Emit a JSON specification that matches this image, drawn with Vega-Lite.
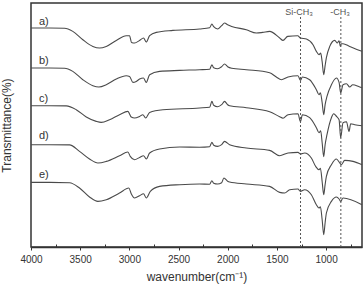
{
  "$schema": "https://vega.github.io/schema/vega-lite/v6.json",
  "width": 331,
  "height": 244,
  "autosize": {"type": "none"},
  "padding": {"left": 31, "top": 3, "right": 1, "bottom": 37},
  "background": "white",
  "config": {
    "font": "Liberation Sans",
    "view": {"stroke": "#333333", "strokeWidth": 1.5},
    "axis": {"grid": false}
  },
  "resolve": {"axis": {"x": "independent"}},
  "datasets": {
    "curves": [
      {"s":"a","w":4000,"t":219},{"s":"a","w":3812,"t":219},{"s":"a","w":3659,"t":218.8},{"s":"a","w":3575,"t":215.6},{"s":"a","w":3473,"t":207.3},{"s":"a","w":3371,"t":200.6},{"s":"a","w":3303,"t":199},{"s":"a","w":3235,"t":200.6},{"s":"a","w":3133,"t":206.6},{"s":"a","w":3032,"t":211.3},{"s":"a","w":2998,"t":211.3},{"s":"a","w":2978,"t":204.6},{"s":"a","w":2947,"t":204},{"s":"a","w":2896,"t":206.6},{"s":"a","w":2856,"t":209},{"s":"a","w":2828,"t":205},{"s":"a","w":2794,"t":211.3},{"s":"a","w":2726,"t":214.6},{"s":"a","w":2557,"t":216.6},{"s":"a","w":2286,"t":218},{"s":"a","w":2184,"t":219.3},{"s":"a","w":2161,"t":223},{"s":"a","w":2143,"t":220.3},{"s":"a","w":2103,"t":218},{"s":"a","w":2062,"t":221.3},{"s":"a","w":2032,"t":224},{"s":"a","w":2001,"t":222.3},{"s":"a","w":1960,"t":220.6},{"s":"a","w":1811,"t":217.3},{"s":"a","w":1709,"t":214},{"s":"a","w":1645,"t":214.6},{"s":"a","w":1574,"t":215.6},{"s":"a","w":1472,"t":209},{"s":"a","w":1438,"t":206.6},{"s":"a","w":1390,"t":210.6},{"s":"a","w":1289,"t":211.3},{"s":"a","w":1261,"t":209},{"s":"a","w":1200,"t":208},{"s":"a","w":1133,"t":202.3},{"s":"a","w":1099,"t":195.6},{"s":"a","w":1072,"t":192.3},{"s":"a","w":1055,"t":194},{"s":"a","w":1040,"t":185.3},{"s":"a","w":1024,"t":172.3},{"s":"a","w":1010,"t":181.3},{"s":"a","w":997,"t":189.3},{"s":"a","w":963,"t":200.6},{"s":"a","w":912,"t":206.6},{"s":"a","w":885,"t":204},{"s":"a","w":868,"t":206.3},{"s":"a","w":855,"t":200.6},{"s":"a","w":845,"t":203.3},{"s":"a","w":828,"t":203.3},{"s":"a","w":760,"t":200.6},{"s":"a","w":658,"t":196.6},{"s":"a","w":635,"t":195.8},
      {"s":"b","w":4000,"t":179},{"s":"b","w":3812,"t":179},{"s":"b","w":3659,"t":178.8},{"s":"b","w":3575,"t":175.6},{"s":"b","w":3473,"t":167.3},{"s":"b","w":3371,"t":161.3},{"s":"b","w":3310,"t":160},{"s":"b","w":3235,"t":162.3},{"s":"b","w":3133,"t":168},{"s":"b","w":3032,"t":171.3},{"s":"b","w":2998,"t":170.6},{"s":"b","w":2964,"t":164.6},{"s":"b","w":2930,"t":165.6},{"s":"b","w":2896,"t":168},{"s":"b","w":2856,"t":169},{"s":"b","w":2828,"t":164.6},{"s":"b","w":2794,"t":172.3},{"s":"b","w":2693,"t":175.6},{"s":"b","w":2489,"t":176.6},{"s":"b","w":2286,"t":177.3},{"s":"b","w":2184,"t":177.8},{"s":"b","w":2161,"t":182.3},{"s":"b","w":2143,"t":179.3},{"s":"b","w":2103,"t":178.3},{"s":"b","w":2062,"t":180.3},{"s":"b","w":2032,"t":183},{"s":"b","w":2001,"t":180.3},{"s":"b","w":1960,"t":178.8},{"s":"b","w":1811,"t":177.3},{"s":"b","w":1574,"t":174.3},{"s":"b","w":1506,"t":170},{"s":"b","w":1455,"t":167.3},{"s":"b","w":1387,"t":170},{"s":"b","w":1286,"t":171.3},{"s":"b","w":1261,"t":166.6},{"s":"b","w":1241,"t":170},{"s":"b","w":1167,"t":167.3},{"s":"b","w":1099,"t":157.3},{"s":"b","w":1072,"t":152.3},{"s":"b","w":1058,"t":154.3},{"s":"b","w":1040,"t":144.3},{"s":"b","w":1024,"t":132.3},{"s":"b","w":1010,"t":142.3},{"s":"b","w":991,"t":150.6},{"s":"b","w":946,"t":162.3},{"s":"b","w":895,"t":169},{"s":"b","w":868,"t":164.6},{"s":"b","w":852,"t":154},{"s":"b","w":828,"t":162.3},{"s":"b","w":793,"t":163.3},{"s":"b","w":760,"t":160},{"s":"b","w":729,"t":162.3},{"s":"b","w":658,"t":160},{"s":"b","w":635,"t":159.3},
      {"s":"c","w":4000,"t":141.3},{"s":"c","w":3812,"t":141.3},{"s":"c","w":3642,"t":141.1},{"s":"c","w":3540,"t":137.3},{"s":"c","w":3438,"t":130},{"s":"c","w":3337,"t":125.6},{"s":"c","w":3286,"t":124.6},{"s":"c","w":3201,"t":127.3},{"s":"c","w":3100,"t":132.3},{"s":"c","w":3015,"t":135.6},{"s":"c","w":2981,"t":130},{"s":"c","w":2947,"t":129},{"s":"c","w":2896,"t":130.6},{"s":"c","w":2863,"t":132.3},{"s":"c","w":2835,"t":129},{"s":"c","w":2794,"t":134.6},{"s":"c","w":2659,"t":137.3},{"s":"c","w":2286,"t":139},{"s":"c","w":2184,"t":139.8},{"s":"c","w":2161,"t":145.6},{"s":"c","w":2143,"t":141.8},{"s":"c","w":2103,"t":140.3},{"s":"c","w":2062,"t":142.3},{"s":"c","w":2032,"t":145.6},{"s":"c","w":2001,"t":142.3},{"s":"c","w":1981,"t":141.3},{"s":"c","w":1811,"t":139.3},{"s":"c","w":1574,"t":135.3},{"s":"c","w":1472,"t":130.3},{"s":"c","w":1438,"t":128.8},{"s":"c","w":1387,"t":132.3},{"s":"c","w":1286,"t":133.3},{"s":"c","w":1261,"t":125.3},{"s":"c","w":1241,"t":132.3},{"s":"c","w":1167,"t":129.3},{"s":"c","w":1099,"t":119.3},{"s":"c","w":1072,"t":114.3},{"s":"c","w":1055,"t":116.3},{"s":"c","w":1040,"t":104.3},{"s":"c","w":1024,"t":90.3},{"s":"c","w":1010,"t":102.3},{"s":"c","w":991,"t":112.3},{"s":"c","w":946,"t":129.3},{"s":"c","w":923,"t":133.3},{"s":"c","w":892,"t":130.3},{"s":"c","w":868,"t":127.3},{"s":"c","w":852,"t":109.3},{"s":"c","w":828,"t":124.3},{"s":"c","w":793,"t":125.3},{"s":"c","w":767,"t":115.6},{"s":"c","w":750,"t":123.3},{"s":"c","w":709,"t":122.3},{"s":"c","w":635,"t":121.3},
      {"s":"d","w":4000,"t":102.3},{"s":"d","w":3812,"t":102.3},{"s":"d","w":3608,"t":102.1},{"s":"d","w":3507,"t":95.6},{"s":"d","w":3405,"t":88},{"s":"d","w":3320,"t":84},{"s":"d","w":3235,"t":85.6},{"s":"d","w":3100,"t":91.3},{"s":"d","w":3015,"t":95},{"s":"d","w":2991,"t":90.6},{"s":"d","w":2947,"t":87.3},{"s":"d","w":2896,"t":89.6},{"s":"d","w":2856,"t":91.3},{"s":"d","w":2828,"t":88},{"s":"d","w":2794,"t":94},{"s":"d","w":2693,"t":98},{"s":"d","w":2489,"t":100},{"s":"d","w":2286,"t":99.8},{"s":"d","w":2184,"t":100.3},{"s":"d","w":2161,"t":104.6},{"s":"d","w":2143,"t":101.8},{"s":"d","w":2103,"t":100.6},{"s":"d","w":2062,"t":102.3},{"s":"d","w":2032,"t":105.6},{"s":"d","w":1981,"t":102.3},{"s":"d","w":1811,"t":99},{"s":"d","w":1574,"t":96.6},{"s":"d","w":1472,"t":91.3},{"s":"d","w":1387,"t":94},{"s":"d","w":1286,"t":94.6},{"s":"d","w":1261,"t":93},{"s":"d","w":1218,"t":94},{"s":"d","w":1150,"t":89},{"s":"d","w":1106,"t":80.6},{"s":"d","w":1072,"t":77.3},{"s":"d","w":1058,"t":78.8},{"s":"d","w":1040,"t":65.3},{"s":"d","w":1024,"t":52.3},{"s":"d","w":1010,"t":62.3},{"s":"d","w":997,"t":70.6},{"s":"d","w":946,"t":82.3},{"s":"d","w":895,"t":88},{"s":"d","w":861,"t":84},{"s":"d","w":845,"t":82.3},{"s":"d","w":811,"t":86.6},{"s":"d","w":726,"t":85.6},{"s":"d","w":635,"t":82.3},
      {"s":"e","w":4000,"t":64.6},{"s":"e","w":3812,"t":64.6},{"s":"e","w":3608,"t":64.3},{"s":"e","w":3507,"t":59},{"s":"e","w":3405,"t":50},{"s":"e","w":3320,"t":45.6},{"s":"e","w":3235,"t":47.3},{"s":"e","w":3100,"t":54},{"s":"e","w":3005,"t":59},{"s":"e","w":2981,"t":53.3},{"s":"e","w":2947,"t":49},{"s":"e","w":2896,"t":51.3},{"s":"e","w":2856,"t":53.3},{"s":"e","w":2828,"t":49},{"s":"e","w":2787,"t":55.6},{"s":"e","w":2693,"t":60.6},{"s":"e","w":2489,"t":62.3},{"s":"e","w":2286,"t":63},{"s":"e","w":2184,"t":62.8},{"s":"e","w":2161,"t":66.3},{"s":"e","w":2143,"t":63.8},{"s":"e","w":2103,"t":63},{"s":"e","w":2062,"t":64.3},{"s":"e","w":2039,"t":69},{"s":"e","w":2001,"t":65.8},{"s":"e","w":1981,"t":65},{"s":"e","w":1811,"t":63},{"s":"e","w":1574,"t":60.6},{"s":"e","w":1472,"t":54.6},{"s":"e","w":1421,"t":54},{"s":"e","w":1370,"t":57.3},{"s":"e","w":1286,"t":58},{"s":"e","w":1261,"t":55.6},{"s":"e","w":1218,"t":57.3},{"s":"e","w":1150,"t":52.3},{"s":"e","w":1099,"t":42.3},{"s":"e","w":1072,"t":39},{"s":"e","w":1058,"t":40.3},{"s":"e","w":1040,"t":27.3},{"s":"e","w":1024,"t":12.3},{"s":"e","w":1010,"t":24.3},{"s":"e","w":997,"t":34},{"s":"e","w":946,"t":45.6},{"s":"e","w":895,"t":50},{"s":"e","w":868,"t":48},{"s":"e","w":852,"t":45.6},{"s":"e","w":828,"t":49},{"s":"e","w":635,"t":42.3}
    ],
    "labels": [
      {"label":"a)","w":3919,"t":224.6},
      {"label":"b)","w":3919,"t":185.6},
      {"label":"c)","w":3919,"t":148.3},
      {"label":"d)","w":3919,"t":110.6},
      {"label":"e)","w":3919,"t":72.3}
    ],
    "marks": [
      {"name":"Si-CH₃","w":1260,"lw":1275},
      {"name":"-CH₃","w":850,"lw":858}
    ]
  },
  "layer": [
    {
      "data": {"name": "curves"},
      "mark": {"type": "line", "color": "#4a4a4a", "strokeWidth": 1.1, "interpolate": "monotone"},
      "encoding": {
        "x": {
          "field": "w", "type": "quantitative",
          "scale": {"domain": [635, 4000], "reverse": true, "nice": false, "zero": false},
          "axis": {
            "orient": "bottom",
            "values": [4000, 3500, 3000, 2500, 2000, 1500, 1000],
            "format": "d", "labelFlush": false,
            "labelFontSize": 10, "labelColor": "#333333", "labelPadding": 4,
            "tickSize": 3, "tickColor": "#333333", "domainColor": "#333333", "domainWidth": 1.5,
            "title": "wavenumber(cm⁻¹)", "titleFontSize": 12, "titleFontWeight": "normal", "titleColor": "#333333",
            "titleY": 24, "titleBaseline": "top"
          }
        },
        "y": {
          "field": "t", "type": "quantitative",
          "scale": {"domain": [0, 244], "nice": false, "zero": false},
          "axis": {
            "labels": false, "ticks": false, "domain": false,
            "title": "Transmittance(%)", "titleFontSize": 12, "titleFontWeight": "normal", "titleColor": "#333333",
            "titlePadding": 18
          }
        },
        "detail": {"field": "s"}
      }
    },
    {
      "data": {"name": "marks"},
      "mark": {"type": "rule", "color": "#555555", "strokeDash": [2, 2], "strokeWidth": 1},
      "encoding": {
        "x": {
          "field": "w", "type": "quantitative",
          "axis": {
            "orient": "bottom", "values": [3750, 3250, 2750, 2250, 1750, 1250, 750],
            "labels": false, "domain": false, "tickSize": -3, "tickColor": "#333333", "title": null
          }
        },
        "y": {"datum": 230, "type": "quantitative"},
        "y2": {"datum": 0}
      }
    },
    {
      "data": {"name": "labels"},
      "mark": {"type": "text", "align": "left", "baseline": "middle", "fontSize": 11, "color": "#333333"},
      "encoding": {
        "x": {"field": "w", "type": "quantitative", "axis": null},
        "y": {"field": "t", "type": "quantitative"},
        "text": {"field": "label"}
      }
    },
    {
      "data": {"name": "marks"},
      "mark": {"type": "text", "align": "center", "baseline": "middle", "fontSize": 9, "color": "#555555"},
      "encoding": {
        "x": {"field": "lw", "type": "quantitative", "axis": null},
        "y": {"datum": 235},
        "text": {"field": "name"}
      }
    }
  ]
}
